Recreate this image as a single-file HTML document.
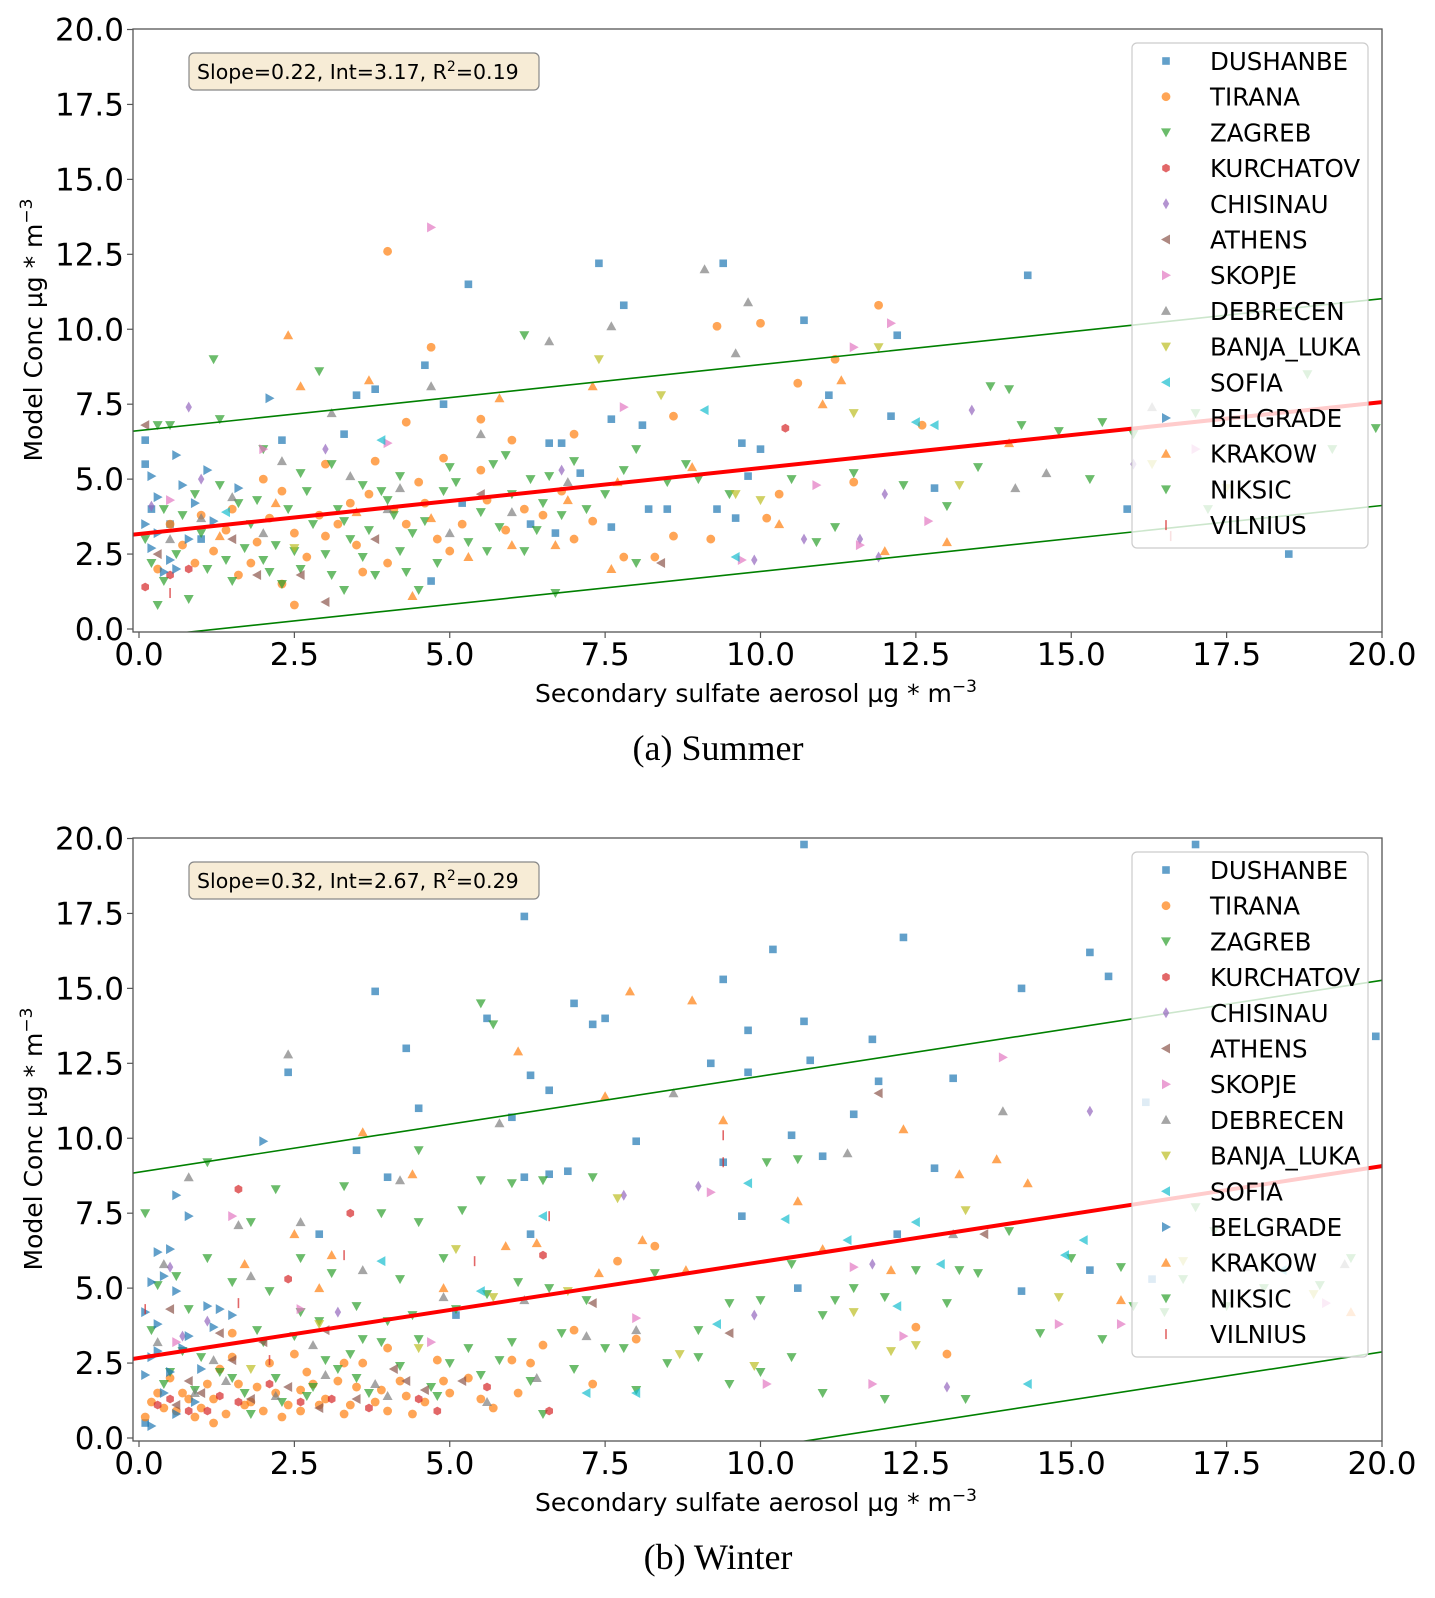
<!DOCTYPE html>
<html><head><meta charset="utf-8"><style>
html,body{margin:0;padding:0;background:#fff;}
svg text{font-family:"DejaVu Sans","Liberation Sans",sans-serif;}
</style></head><body>
<svg id="fig" width="1435" height="1593" viewBox="0 0 1435 1593" xmlns="http://www.w3.org/2000/svg"></svg>
<script>
const cities=["DUSHANBE","TIRANA","ZAGREB","KURCHATOV","CHISINAU","ATHENS","SKOPJE","DEBRECEN","BANJA_LUKA","SOFIA","BELGRADE","KRAKOW","NIKSIC","VILNIUS"];
const xTicks=[0,2.5,5,7.5,10,12.5,15,17.5,20];
const yTicks=[0,2.5,5,7.5,10,12.5,15,17.5,20];
const summerFit=[0.22,3.17,0.19];
const winterFit=[0.32,2.67,0.29];
const summerBand=[3.45];
const winterBand=[6.2];
const sDUSHANBE=[[5.3,11.5],[7.4,12.2],[9.4,12.2],[7.8,10.8],[10.7,10.3],[14.3,11.8],[12.2,9.8],[3.5,7.8],[3.8,8.0],[4.6,8.8],[4.9,7.5],[11.1,7.8],[12.1,7.1],[7.6,7.0],[8.1,6.8],[9.7,6.2],[10,6],[6.6,6.2],[6.8,6.2],[8.2,4.0],[8.5,4.0],[9.6,3.7],[7.6,3.4],[6.3,3.5],[7.1,5.2],[9.3,4.0],[12.8,4.7],[15.9,4.0],[18.5,2.5],[4.7,1.6],[0.1,6.3],[0.1,5.5],[0.2,4.0],[0.5,3.5],[2.3,6.3],[1,3],[5.2,4.2],[6.7,3.2],[9.8,5.1],[3.3,6.5]];
const sTIRANA=[[4,12.6],[4.7,9.4],[9.3,10.1],[10,10.2],[11.9,10.8],[10.6,8.2],[11.2,9.0],[8.6,7.1],[7,6.5],[6,6.3],[5.5,7.0],[4.3,6.9],[3.8,5.6],[3,5.5],[2.3,4.6],[2,5],[1.5,4],[1,3.8],[0.5,3.5],[0.7,2.8],[1.2,2.6],[1.8,2.2],[2.5,3.2],[3,3.1],[3.5,2.8],[4,2.2],[4.3,3.5],[4.8,3.0],[5.2,3.5],[5.6,4.3],[6.2,4.0],[6.8,4.6],[7.3,3.6],[7.8,2.4],[8.3,2.4],[8.6,3.1],[9.2,3.0],[10.1,3.7],[10.3,4.5],[12.6,6.8],[11.5,4.9],[2.5,0.8],[1.6,1.8],[0.3,2.0],[3.4,4.2],[4.5,4.9],[5.5,5.3],[2.9,3.8],[0.9,2.2],[1.4,3.3],[2.1,3.7],[2.7,2.4],[3.2,3.5],[3.7,4.5],[4.1,4.0],[4.6,4.2],[5.0,2.6],[5.9,3.3],[6.5,3.8],[7.0,3.0],[1.9,2.9],[2.3,1.5],[3.6,1.9],[4.9,5.7]];
const sZAGREB=[[1.2,9],[2.9,8.6],[6.2,9.8],[0.3,6.8],[0.5,6.8],[1.3,7],[2,6],[2.6,5.2],[3.1,5.5],[3.6,4.8],[4.2,5.1],[5,5.4],[5.7,5.5],[6.3,5],[7,5.6],[8,6],[9,5],[10.5,5],[11.2,3.4],[12.3,4.8],[13,4.1],[13.7,8.1],[14.2,6.8],[15.3,5.0],[16,6.5],[17,7.2],[19.9,6.7],[10.9,2.9],[8,2.2],[6.7,1.2],[4.5,1.3],[3.3,1.3],[2.3,1.5],[1.5,1.6],[0.8,1.0],[0.3,0.8],[0.2,2.2],[0.6,2.5],[1,3.2],[1.4,2.3],[1.8,3.5],[2.2,2.8],[2.6,2.0],[3,2.5],[3.4,3.0],[3.8,1.8],[4.2,2.6],[4.6,3.6],[5.3,2.9],[5.8,3.4],[6.2,2.6],[6.8,3.8],[7.5,4.5],[8.5,4.9],[9.5,4.5],[0.4,4.0],[0.9,4.5],[1.6,4.2],[2.4,4.0],[2.8,3.5],[3.2,4.0],[4,4.3],[4.9,4.6],[5.5,3.9],[6.5,4.2],[0.1,3.0],[1.1,2.0],[2,2.3],[3.6,2.4],[4.4,3.2],[11.5,5.2],[14.8,6.6],[0.7,3.8],[1.3,4.8],[1.9,4.3],[2.1,1.9],[2.7,4.6],[3.3,3.6],[3.9,4.6],[4.3,1.9],[4.8,2.2],[5.1,4.9],[5.6,2.6],[6.0,4.5],[6.4,3.3],[7.2,4.0],[7.8,5.3],[0.4,1.6],[1.7,2.7],[2.5,2.6],[3.1,1.8],[3.7,3.3],[4.1,3.8],[5.9,5.8],[6.6,5.1],[8.8,5.5]];
const sKURCHATOV=[[10.4,6.7],[0.1,1.4],[0.8,2.0],[0.5,1.8]];
const sCHISINAU=[[0.8,7.4],[0.2,4.1],[1,5],[3,6],[6.8,5.3],[12,4.5],[13.4,7.3],[10.7,3.0],[11.6,3.0],[16,5.5],[9.9,2.3],[11.9,2.4]];
const sATHENS=[[0.1,6.8],[2.6,1.8],[8.4,2.2],[1.5,3],[3.8,3.0],[0.3,2.5],[5.5,4.5],[1.9,1.8],[3,0.9]];
const sSKOPJE=[[4.7,13.4],[12.1,10.2],[11.5,9.4],[7.8,7.4],[10.9,4.8],[12.7,3.6],[9.7,2.3],[11.6,2.8],[2,6],[0.5,4.3],[4,6.2],[17,6.0]];
const sDEBRECEN=[[9.1,12.0],[9.8,10.9],[7.6,10.1],[6.6,9.6],[4.7,8.1],[3.1,7.2],[9.6,9.2],[5.5,6.5],[14.1,4.7],[14.6,5.2],[2.3,5.6],[1.5,4.4],[4,4],[16.3,7.4],[0.5,3],[1.0,3.7],[2.0,3.2],[3.4,5.1],[4.2,4.7],[5.0,3.2],[6.0,3.9],[6.9,4.9]];
const sBANJA=[[7.4,9.0],[8.4,7.8],[11.5,7.2],[11.9,9.4],[16.3,5.5],[17.5,4.7],[13.2,4.8],[9.6,4.5],[10,4.3],[2.5,2.7]];
const sSOFIA=[[9.1,7.3],[12.5,6.9],[12.8,6.8],[9.6,2.4],[3.9,6.3],[1.4,3.9]];
const sBELGRADE=[[2.1,7.7],[0.1,3.5],[0.3,4.4],[0.6,5.8],[0.2,2.7],[0.9,4.2],[0.4,1.9],[1.2,3.6],[0.8,3.0],[1.6,4.7],[0.2,5.1],[0.5,2.3],[0.7,4.8],[0.3,3.2],[1.1,5.3],[0.6,2.0]];
const sKRAKOW=[[2.4,9.8],[3.7,8.3],[11.3,8.3],[7.3,8.1],[6.7,2.8],[7.6,2.0],[12,2.6],[13,2.9],[10.3,3.5],[11,7.5],[14,6.2],[4.4,1.1],[2.6,8.1],[5.8,7.7],[1.3,3.1],[2.2,4.2],[3.5,3.9],[4.7,3.7],[5.3,2.4],[6.0,2.8],[6.9,4.3],[7.7,4.9],[8.9,5.4]];
const sNIKSIC=[[18.8,8.5],[17.2,4.0],[19.2,6.0],[15.5,6.9],[14,8.0],[13.5,5.4]];
const sVILNIUS=[[16.6,3.1],[0.5,1.2]];
const wDUSHANBE=[[10.7,19.8],[17,19.8],[6.2,17.4],[10.2,16.3],[12.3,16.7],[15.3,16.2],[15.6,15.4],[14.2,15],[9.4,15.3],[7,14.5],[7.3,13.8],[7.5,14],[5.6,14],[4.3,13],[10.7,13.9],[9.8,13.6],[11.8,13.3],[11.9,11.9],[13.1,12],[9.2,12.5],[9.8,12.2],[6.3,12.1],[6.6,11.6],[2.4,12.2],[3.8,14.9],[16.2,11.2],[10.8,12.6],[11.5,10.8],[4.5,11],[6,10.7],[8,9.9],[10.5,10.1],[11,9.4],[12.8,9.0],[9.4,9.2],[3.5,9.6],[4,8.7],[6.2,8.7],[6.6,8.8],[6.9,8.9],[2.9,6.8],[9.7,7.4],[12.2,6.8],[10.6,5.0],[14.2,4.9],[15.3,5.6],[19.9,13.4],[16.3,5.3],[5.1,4.1],[6.3,6.8],[0.1,0.5]];
const wTIRANA=[[0.1,0.7],[0.4,1.0],[0.6,0.9],[0.8,1.3],[1,1.0],[1.2,0.5],[1.4,0.8],[1.6,1.8],[1.8,1.2],[2,0.9],[2.2,1.5],[2.4,1.1],[2.6,0.9],[2.8,1.8],[3,1.3],[3.3,0.8],[3.5,1.7],[3.8,1.2],[4,0.9],[4.3,1.4],[4.6,1.2],[5,1.5],[5.3,2.0],[5.7,1.0],[6,2.6],[6.3,2.5],[7,3.6],[7.3,1.8],[8,3.3],[8.3,6.4],[12.5,3.7],[13,2.8],[0.5,2.0],[1.5,3.5],[2.1,2.5],[2.7,2.2],[3.2,1.9],[3.6,2.5],[4.2,1.9],[4.8,2.6],[1.1,1.8],[0.3,1.5],[1.7,1.1],[2.5,2.8],[4,3.0],[6.5,3.1],[7.7,5.9],[1.3,2.3],[0.9,0.7],[0.2,1.2],[0.7,1.5],[1.2,1.3],[1.9,1.7],[2.3,0.7],[2.9,1.1],[3.4,1.1],[3.9,1.6],[4.4,0.8],[4.9,1.9],[5.5,1.3],[6.1,1.5],[1.5,2.7],[2.6,1.6],[3.3,2.5]];
const wZAGREB=[[1.1,9.2],[0.1,7.5],[5.5,14.5],[5.7,13.8],[3.3,8.4],[4.5,9.6],[5.5,8.6],[6,8.5],[6.5,8.6],[7.3,8.7],[10.1,9.2],[10.6,9.3],[2.2,8.3],[1.8,7.2],[2.6,6.0],[3.9,7.5],[4.5,7.2],[5.2,7.6],[1.1,6.0],[0.6,5.4],[0.3,5.1],[0.8,4.3],[1.5,5.2],[2.1,4.9],[2.6,4.2],[3.1,5.5],[3.5,4.4],[3.9,3.2],[4.2,5.3],[4.9,6.0],[5.6,4.8],[6.1,5.2],[6.6,5.0],[7.2,4.6],[7.8,3.0],[8.3,5.5],[9,3.6],[9.5,4.5],[10,4.6],[10.5,5.8],[11,4.1],[11.5,5.0],[12,4.7],[12.5,5.6],[13,4.5],[13.5,5.5],[14,6.9],[14.5,3.5],[15,6.0],[15.5,3.3],[16,4.4],[17,7.7],[17.5,4.4],[19,5.1],[19.5,6.0],[0.5,2.2],[1.0,2.7],[1.5,2.0],[2,3.2],[2.5,3.4],[3,2.6],[3.5,2.0],[4,3.9],[4.5,3.3],[5,2.5],[5.5,2.1],[6,3.2],[6.5,0.8],[7,2.3],[7.5,3.0],[8,1.6],[8.5,2.5],[9,2.7],[9.5,1.8],[10,2.2],[10.5,2.7],[11,1.5],[12,1.3],[13.3,1.3],[2.3,1.2],[1.8,0.8],[2.8,1.7],[3.4,2.8],[4.7,1.7],[0.2,3.6],[0.4,1.8],[0.9,1.6],[1.3,2.2],[1.7,1.5],[2.2,2.0],[2.7,1.4],[3.2,2.3],[3.7,1.5],[4.2,2.4],[4.8,1.4],[5.3,3.0],[5.8,2.6],[6.3,1.9],[6.8,3.5],[0.7,2.9],[1.9,3.6],[2.9,3.9],[3.6,3.3],[4.4,4.1],[5.1,4.3]];
const wKURCHATOV=[[1.6,8.3],[2.4,5.3],[3.4,7.5],[6.5,6.1],[6.6,0.9],[0.3,1.1],[1.3,1.4],[2.1,1.8],[3.1,1.3],[4.8,0.9],[0.8,0.9],[1.6,1.2],[0.5,1.3],[1.1,0.9],[2.6,1.2],[3.7,1.0],[4.5,1.3],[5.6,1.7]];
const wCHISINAU=[[9,8.4],[7.8,8.1],[11.8,5.8],[9.9,4.1],[13,1.7],[15.3,10.9],[0.7,3.4],[1.1,3.9],[3.2,4.2],[0.5,5.7]];
const wATHENS=[[11.9,11.5],[13.6,6.8],[9.5,3.5],[7.3,4.5],[1.3,3.5],[0.5,4.3],[2,3.2],[3,3.6],[0.8,1.9],[1.5,2.6],[4.3,1.9],[0.6,1.1],[1.0,1.5],[1.8,1.3],[2.4,1.7],[2.9,1.0],[3.5,1.3],[4.1,2.3],[4.6,1.6],[5.2,1.9]];
const wSKOPJE=[[13.9,12.7],[15.8,3.8],[9.2,8.2],[11.5,5.7],[11.8,1.8],[10.1,1.8],[1.5,7.4],[2.6,4.3],[0.6,3.2],[4.7,3.2],[8,4],[14.8,3.8],[19.1,4.5],[12.3,3.4]];
const wDEBRECEN=[[2.4,12.8],[8.6,11.5],[5.8,10.5],[13.9,10.9],[11.4,9.5],[4.2,8.6],[2.6,7.2],[1.6,7.1],[0.8,8.7],[0.4,5.8],[1.8,5.4],[3.6,5.6],[4.9,4.7],[6.2,4.6],[7.2,3.4],[0.3,3.2],[1.2,2.6],[2.8,3.1],[3.8,1.8],[17.8,5.7],[19.4,5.8],[8,3.6],[13.1,6.8],[0.9,1.5],[1.4,1.9],[2.2,1.4],[3.0,2.1],[4.0,1.4],[5.6,1.2],[6.4,2.0]];
const wBANJA=[[13.3,7.6],[11.5,4.2],[9.9,2.4],[12.1,2.9],[12.5,3.1],[14.8,4.7],[16.8,5.9],[18.9,4.8],[7.7,8.0],[5.1,6.3],[6.9,4.9],[2.9,3.8],[1.8,2.3],[4.5,3.0],[5.7,4.7],[8.7,2.8]];
const wSOFIA=[[9.8,8.5],[10.4,7.3],[11.4,6.6],[12.5,7.2],[12.9,5.8],[14.3,1.8],[14.9,6.1],[15.2,6.6],[18.4,5.6],[6.5,7.4],[3.9,5.9],[7.2,1.5],[8,1.5],[5.5,4.9],[12.2,4.4],[9.3,3.8]];
const wBELGRADE=[[2,9.9],[0.6,8.1],[0.8,7.4],[0.3,6.2],[0.5,6.3],[0.2,5.2],[0.4,5.4],[0.6,4.9],[0.1,4.2],[0.3,3.8],[0.8,3.4],[1.1,4.4],[1.3,4.3],[1.5,4.1],[0.2,2.7],[0.5,2.2],[0.7,3.0],[1.2,3.7],[0.4,1.5],[0.9,1.2],[0.1,2.1],[0.2,0.4],[0.6,0.8],[1.0,2.3],[0.3,2.9]];
const wKRAKOW=[[7.9,14.9],[8.9,14.6],[6.1,12.9],[7.5,11.4],[9.4,10.6],[12.3,10.3],[13.8,9.3],[14.3,8.5],[13.2,8.8],[8.1,6.6],[6.4,6.5],[3.6,10.2],[4.4,8.8],[2.5,6.8],[3.1,6.1],[1.7,5.8],[2.9,5.0],[4.9,5.0],[5.9,6.4],[10.6,7.9],[12.1,5.6],[11,6.3],[7.4,5.5],[19.5,4.2],[15.8,4.6],[8.8,5.6]];
const wNIKSIC=[[11.2,4.6],[13.2,5.6],[16.5,4.2],[16.8,5.3],[17.3,6.9],[18.1,5.0],[15.8,5.7]];
const wVILNIUS=[[0.1,4.3],[1.6,4.5],[3.3,6.1],[6.6,7.4],[9.4,10.1],[9.4,9.2],[5.4,5.9],[2.1,2.6]];

const summerSets=[sDUSHANBE,sTIRANA,sZAGREB,sKURCHATOV,sCHISINAU,sATHENS,sSKOPJE,sDEBRECEN,sBANJA,sSOFIA,sBELGRADE,sKRAKOW,sNIKSIC,sVILNIUS];
const winterSets=[wDUSHANBE,wTIRANA,wZAGREB,wKURCHATOV,wCHISINAU,wATHENS,wSKOPJE,wDEBRECEN,wBANJA,wSOFIA,wBELGRADE,wKRAKOW,wNIKSIC,wVILNIUS];
const colors=["#1f77b4","#ff7f0e","#2ca02c","#d62728","#9467bd","#8c564b","#e377c2","#7f7f7f","#bcbd22","#17becf","#1f77b4","#ff7f0e","#2ca02c","#d62728"];
const shapes=["square","circle","tdown","hex","diamond","tleft","tright","tup","tdown","tleft","tright","tup","tdown","vline"];

const NS="http://www.w3.org/2000/svg";
const fig=document.getElementById('fig');
function mk(tag,attrs,parent){const e=document.createElementNS(NS,tag);for(const k in attrs)e.setAttribute(k,attrs[k]);(parent||fig).appendChild(e);return e;}

function marker(g,shape,cx,cy,color){
  const r=5;let e;
  if(shape==="square"){e=mk('rect',{x:cx-3.8,y:cy-3.8,width:7.6,height:7.6},g);}
  else if(shape==="circle"){e=mk('circle',{cx:cx,cy:cy,r:4.4},g);}
  else if(shape==="hex"){let p=[];for(let i=0;i<6;i++){const a=Math.PI/3*i+Math.PI/6;p.push((cx+4.4*Math.cos(a)).toFixed(1)+','+(cy+4.4*Math.sin(a)).toFixed(1));}e=mk('polygon',{points:p.join(' ')},g);}
  else if(shape==="diamond"){e=mk('polygon',{points:`${cx},${cy-5.5} ${cx+3.2},${cy} ${cx},${cy+5.5} ${cx-3.2},${cy}`},g);}
  else if(shape==="tdown"){e=mk('polygon',{points:`${cx-r},${cy-r+1} ${cx+r},${cy-r+1} ${cx},${cy+r}`},g);}
  else if(shape==="tup"){e=mk('polygon',{points:`${cx-r},${cy+r-1} ${cx+r},${cy+r-1} ${cx},${cy-r}`},g);}
  else if(shape==="tleft"){e=mk('polygon',{points:`${cx+r-1},${cy-r} ${cx+r-1},${cy+r} ${cx-r},${cy}`},g);}
  else if(shape==="tright"){e=mk('polygon',{points:`${cx-r+1},${cy-r} ${cx-r+1},${cy+r} ${cx+r},${cy}`},g);}
  else {e=mk('line',{x1:cx,y1:cy-5,x2:cx,y2:cy+5,stroke:color,'stroke-width':1.6},g);}
  if(shape!=="vline"){e.setAttribute('fill',color);}
  e.setAttribute('fill-opacity','0.7');e.setAttribute('stroke-opacity','0.7');
  return e;
}

function panel(off,sets,fit,band,caption,key){
  const X0=139,X20=1382,Y0=629+off,Y20=29.5+off;
  const L=133,R=1382,T=29+off,B=632+off;
  const sx=v=>X0+(X20-X0)*v/20;
  const sy=v=>Y0-(Y0-Y20)*v/20;
  const g=mk('g',{});
  
  
  mk('defs',{},g).innerHTML=`<clipPath id="clip-${key}"><rect x="${L}" y="${T}" width="${R-L}" height="${B-T}"/></clipPath>`;
  const pts=mk('g',{'clip-path':`url(#clip-${key})`},g);
  
  
  sets.forEach((s,ci)=>{
    const cg=mk('g',{},pts);
    
    
    s.forEach(p=>{const m=marker(cg,shapes[ci],sx(p[0]),sy(p[1]),colors[ci]);
      
      });
  });
  const ln=(m,b,c,w,name)=>{const e=mk('line',{x1:sx(-0.1),y1:sy(m*-0.1+b),x2:sx(20),y2:sy(m*20+b),stroke:c,'stroke-width':w},pts);
    
    };
  ln(fit[0],fit[1]+band[0],'#008000',1.6,'upper-bound-line');
  ln(fit[0],fit[1]-band[0],'#008000',1.6,'lower-bound-line');
  ln(fit[0],fit[1],'#ff0000',4,'regression-line');
  const fr=mk('rect',{x:L,y:T,width:R-L,height:B-T,fill:'none',stroke:'#555','stroke-width':1.3},g);
  
  
  xTicks.forEach(t=>{const x=sx(t);mk('line',{x1:x,y1:B,x2:x,y2:B+6,stroke:'#555','stroke-width':1.2},g);
    const tx=mk('text',{x:x,y:665+off,'font-size':31,'text-anchor':'middle',fill:'#000'},g);tx.textContent=t.toFixed(1);
    
    });
  yTicks.forEach(t=>{const y=sy(t);mk('line',{x1:L-6,y1:y,x2:L,y2:y,stroke:'#555','stroke-width':1.2},g);
    const tx=mk('text',{x:124,y:y+11,'font-size':31,'text-anchor':'end',fill:'#000'},g);tx.textContent=t.toFixed(1);
    
    });
  const xt=mk('text',{x:756,y:702+off,'font-size':25,'text-anchor':'middle'},g);
  xt.innerHTML='Secondary sulfate aerosol µg * m<tspan dy="-10" font-size="17">−3</tspan>';
  
  
  const yt=mk('text',{x:0,y:0,'font-size':25,'text-anchor':'middle',transform:`translate(42,${330+off}) rotate(-90)`},g);
  yt.innerHTML='Model Conc µg * m<tspan dy="-10" font-size="17">−3</tspan>';
  
  
  const cap=mk('text',{x:718,y:760+off,'font-size':36,'text-anchor':'middle'},g);
  cap.setAttribute('style','font-family:"Liberation Serif","DejaVu Serif",serif');
  cap.textContent=caption;
  
  
  const ab=mk('g',{},g);
  
  
  mk('rect',{x:189,y:53+off,width:350,height:37,rx:5,fill:'#f7ecd6',stroke:'#888','stroke-width':1.2},ab);
  const at=mk('text',{x:197,y:79+off,'font-size':20.5},ab);
  at.innerHTML=`Slope=${fit[0].toFixed(2)}, Int=${fit[1].toFixed(2)}, R<tspan dy="-8" font-size="14">2</tspan><tspan dy="8">=${fit[2].toFixed(2)}</tspan>`;
  const lg=mk('g',{},g);
  
  
  mk('rect',{x:1132,y:43+off,width:236,height:505,rx:5,fill:'#fff','fill-opacity':0.8,stroke:'#ccc','stroke-width':1.2},lg);
  cities.forEach((c,i)=>{
    const y=61+off+35.7*i;
    const eg=mk('g',{},lg);
    
    
    marker(eg,shapes[i],1166,y,colors[i]);
    const t=mk('text',{x:1210,y:y+9,'font-size':24.5},eg);t.textContent=c;
  });
}
panel(0,summerSets,summerFit,summerBand,'(a) Summer','summer');
panel(809,winterSets,winterFit,winterBand,'(b) Winter','winter');
</script>
</body></html>
